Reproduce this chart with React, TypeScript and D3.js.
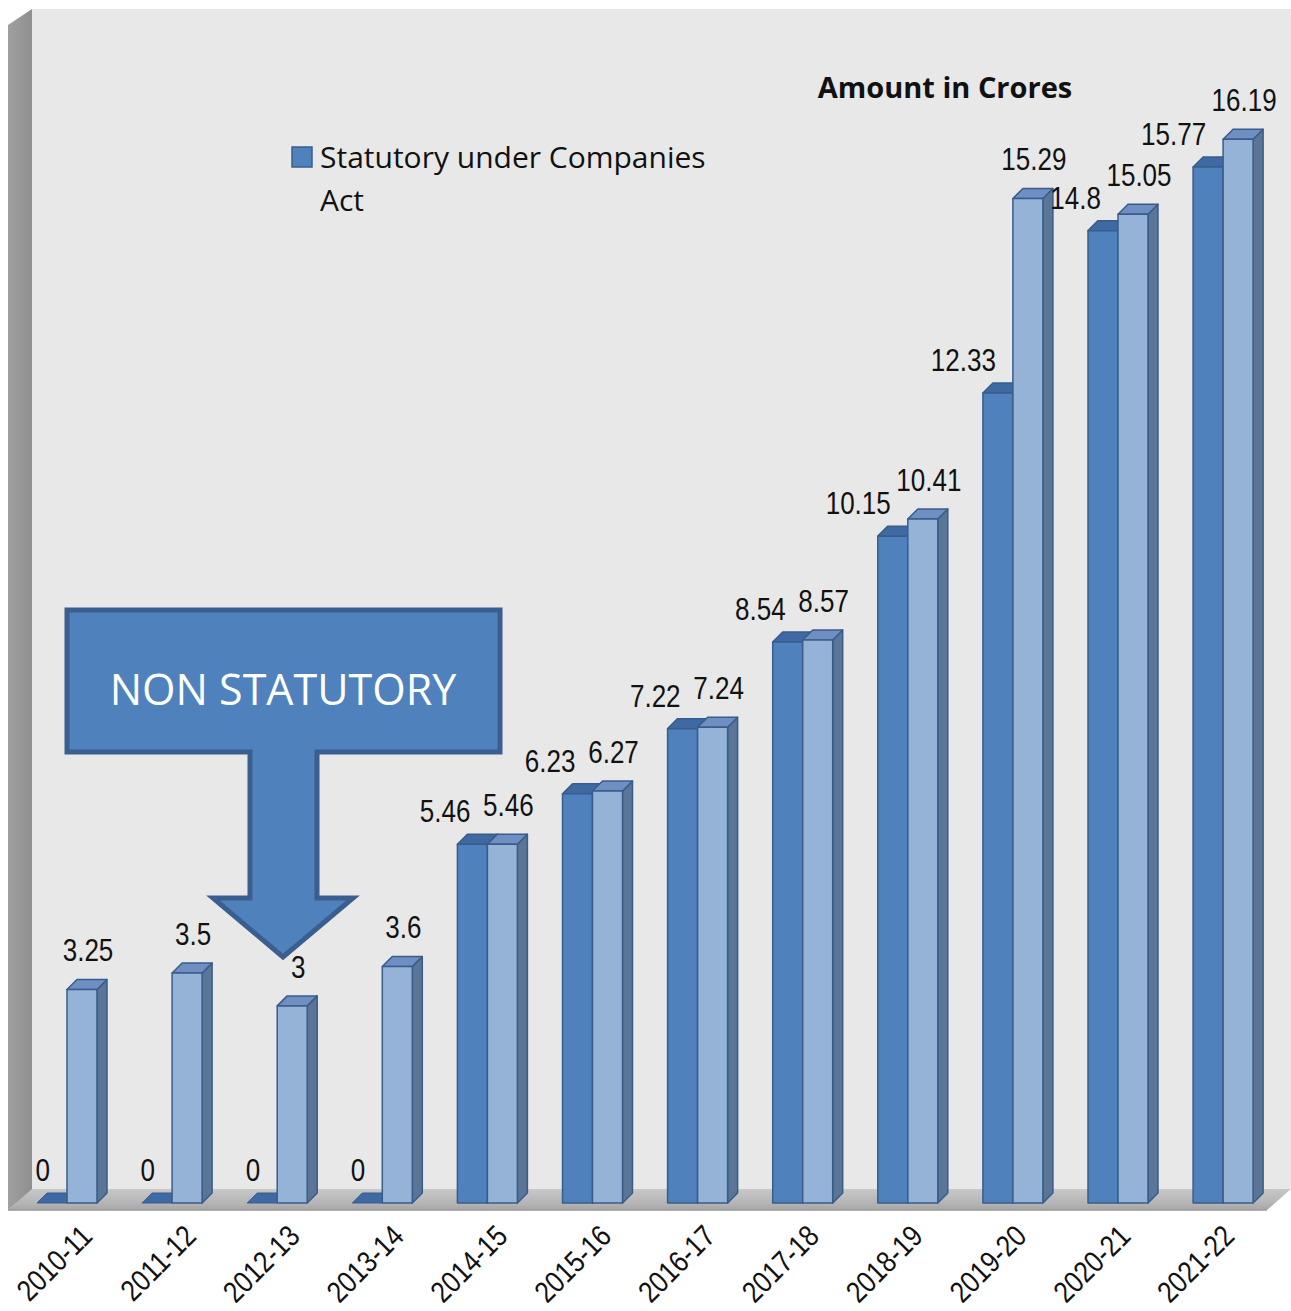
import * as d3 from "d3";

const categories = ["2010-11", "2011-12", "2012-13", "2013-14", "2014-15", "2015-16", "2016-17", "2017-18", "2018-19", "2019-20", "2020-21", "2021-22"];
const statutory = [0, 0, 0, 0, 5.46, 6.23, 7.22, 8.54, 10.15, 12.33, 14.8, 15.77];
const spent = [3.25, 3.5, 3, 3.6, 5.46, 6.27, 7.24, 8.57, 10.41, 15.29, 15.05, 16.19];

const W = 1291;
const H = 1311;
const base = 1203; // front edge of bar bases
const dx = 10; // bar depth
const dy = 10;

// narrow look: Arial-like font squeezed horizontally
const numFont = "'Liberation Sans', Arial, sans-serif";
const narrow = 0.84;
const textFont = "'Open Sans', 'Noto Sans', sans-serif";

export default function App() {
  const x = d3.scaleBand<string>().domain(categories).range([32, 32 + 12 * 105.1]).padding(0);
  const inner = d3.scaleBand<number>().domain([0, 1]).range([0, 60]).padding(0);
  const y = d3.scaleLinear().domain([0, 18]).range([base, base - 18 * 65.7]);
  const xLab = d3.scalePoint<string>().domain(categories).range([94, 1236]);
  const bw = inner.bandwidth();

  const bar = (cx: number, v: number, i: number, s: number) => {
    const top = y(v);
    const front = s === 0 ? "#4f81bd" : "#95b3d7";
    const topC = s === 0 ? "#3f69a3" : "#6f8fc2";
    const side = s === 0 ? "#3d5f8e" : "#5b7597";
    const stroke = "#385d8a";
    if (v === 0) {
      return (
        <polygon key={`b${i}-${s}`}
          points={`${cx},${base} ${cx + dx},${base - dy} ${cx + bw + dx},${base - dy} ${cx + bw},${base}`}
          fill={topC} stroke={stroke} strokeWidth={1} />
      );
    }
    return (
      <g key={`b${i}-${s}`} stroke={stroke} strokeWidth={1.5} strokeLinejoin="round">
        <polygon points={`${cx + bw},${top} ${cx + bw + dx},${top - dy} ${cx + bw + dx},${base - dy} ${cx + bw},${base}`} fill={side} />
        <polygon points={`${cx},${top} ${cx + dx},${top - dy} ${cx + bw + dx},${top - dy} ${cx + bw},${top}`} fill={topC} />
        <rect x={cx} y={top} width={bw} height={base - top} fill={front} />
      </g>
    );
  };

  return (
    <svg width={W} height={H} style={{ position: "absolute", left: 0, top: 0, background: "#fff" }}>
      <defs>
        <linearGradient id="leftWall" x1="0" x2="1" y1="0" y2="0">
          <stop offset="0" stopColor="#a0a0a0" />
          <stop offset="1" stopColor="#8f8f8f" />
        </linearGradient>
        <linearGradient id="floor" x1="0" x2="0" y1="0" y2="1">
          <stop offset="0" stopColor="#c8c8c8" />
          <stop offset="0.7" stopColor="#b4b4b4" />
          <stop offset="1" stopColor="#a6a6a6" />
        </linearGradient>
      </defs>

      {/* back wall */}
      <rect x={32} y={9} width={W - 32} height={1181} fill="#e8e8e8" />
      {/* left wall */}
      <polygon points={`8,25 32,9 32,1190 8,1210`} fill="url(#leftWall)" />
      {/* floor */}
      <polygon points={`8,1210 32,1189 ${W},1189 1267,1210`} fill="url(#floor)" />
      <line x1={8} x2={1267} y1={1210} y2={1210} stroke="#9a9a9a" strokeWidth={1.5} />

      {/* bars */}
      {categories.map((c, i) => {
        const gx = (x(c) as number) + 5;
        return (
          <g key={c}>
            {bar(gx + (inner(0) as number), statutory[i], i, 0)}
            {bar(gx + (inner(1) as number), spent[i], i, 1)}
          </g>
        );
      })}

      {/* value labels */}
      {categories.map((c, i) => {
        const gx = (x(c) as number) + 5;
        const x0 = gx + (inner(0) as number);
        const x1 = gx + (inner(1) as number);
        return (
          <g key={`l${c}`} fontFamily={numFont} fontSize={31} fill="#111">
            <text transform={`translate(${x0 + 13},${y(statutory[i]) - 22}) scale(${narrow},1)`} textAnchor="end">{statutory[i]}</text>
            <text transform={`translate(${x1 + 21},${y(spent[i]) - 28}) scale(${narrow},1)`} textAnchor="middle">{spent[i]}</text>
          </g>
        );
      })}

      {/* x axis labels */}
      {categories.map((c) => (
        <text key={`x${c}`} transform={`translate(${xLab(c)},1238) rotate(-45) scale(0.85,1)`} textAnchor="end"
          fontFamily={numFont} fontSize={30} fill="#111">{c}</text>
      ))}

      {/* legend */}
      <rect x={292} y={147} width={20} height={20} fill="#4f81bd" stroke="#385d8a" strokeWidth={1.5} />
      <text x={320} y={168} fontFamily={textFont} fontSize={30} fill="#111">Statutory under Companies</text>
      <text x={320} y={211} fontFamily={textFont} fontSize={30} fill="#111">Act</text>

      <text x={945} y={98} textAnchor="middle" fontFamily={textFont} fontSize={29} fontWeight="bold" fill="#111">Amount in Crores</text>

      {/* non statutory callout */}
      <polygon points="67,610 500,610 500,752 317,752 317,898 353,898 283,957 213,898 250,898 250,752 67,752"
        fill="#4f81bd" stroke="#3a5f8f" strokeWidth={5} strokeLinejoin="miter" />
      <text x={283} y={705} textAnchor="middle" fontFamily={textFont} fontSize={43} fill="#fff">NON STATUTORY</text>
    </svg>
  );
}
